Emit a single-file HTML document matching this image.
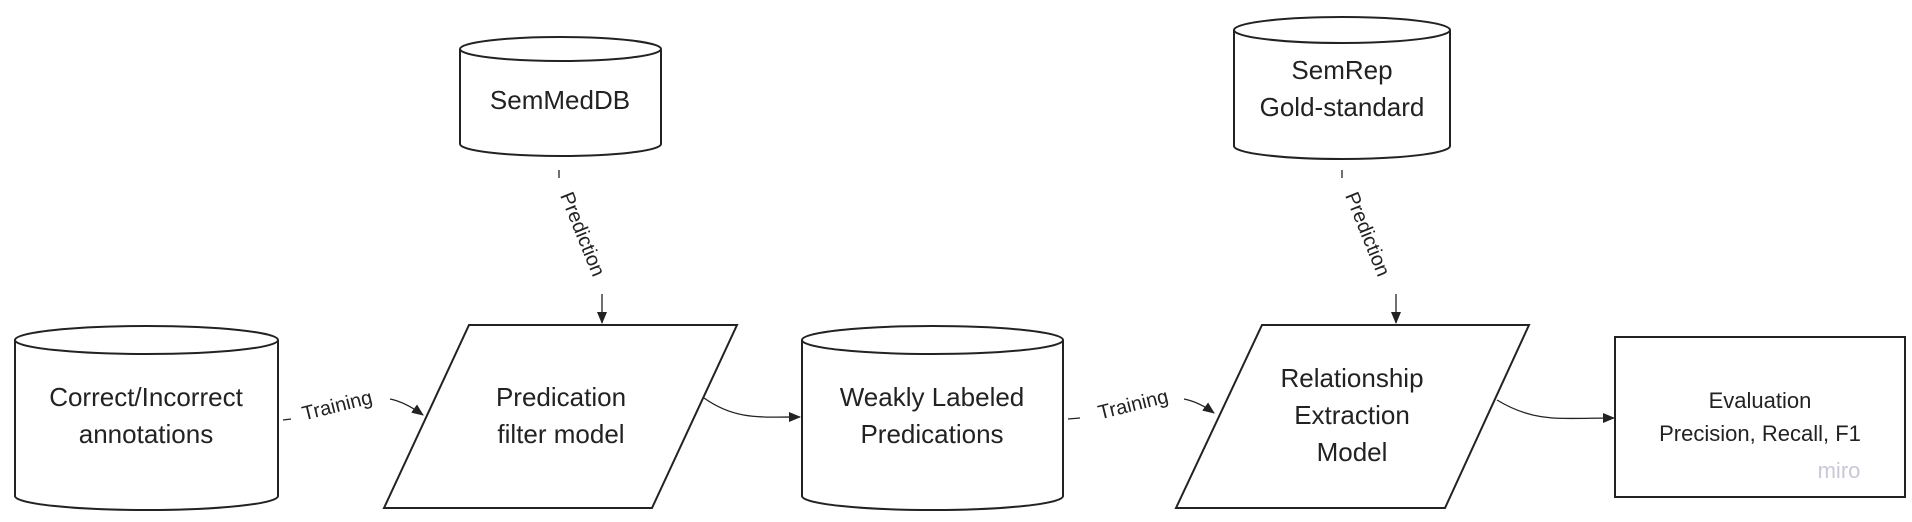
<!DOCTYPE html>
<html><head><meta charset="utf-8"><style>
html,body{margin:0;padding:0;background:#fff;}
svg{display:block;}
text{font-family:"Liberation Sans Narrow","Liberation Sans",sans-serif;fill:#222;}
.n{font-size:26px;text-anchor:middle;}
.l{font-size:20px;text-anchor:middle;font-family:"Liberation Sans",sans-serif;}
.s{fill:#fff;stroke:#222;stroke-width:2;}
.c{fill:none;stroke:#222;stroke-width:1.3;}
</style></head><body>
<svg width="1912" height="522" viewBox="0 0 1912 522">
<defs><marker id="a" markerWidth="12" markerHeight="10" refX="11" refY="5" orient="auto" markerUnits="userSpaceOnUse"><path d="M0,0 L12,5 L0,10 Z" fill="#222"/></marker></defs>
<!-- SemMedDB -->
<path class="s" d="M460,49 A100.5,12 0 0 1 661,49 L661,144 A100.5,12 0 0 1 460,144 Z"/>
<path class="s" style="fill:none" d="M460,49 A100.5,12 0 0 0 661,49"/>
<text class="n" x="560" y="109">SemMedDB</text>
<!-- SemRep -->
<path class="s" d="M1234,30 A108,13 0 0 1 1450,30 L1450,146 A108,13 0 0 1 1234,146 Z"/>
<path class="s" style="fill:none" d="M1234,30 A108,13 0 0 0 1450,30"/>
<text class="n" x="1342" y="79">SemRep</text>
<text class="n" x="1342" y="116">Gold-standard</text>
<!-- Correct -->
<path class="s" d="M15,340 A131.5,14 0 0 1 278,340 L278,496 A131.5,14 0 0 1 15,496 Z"/>
<path class="s" style="fill:none" d="M15,340 A131.5,14 0 0 0 278,340"/>
<text class="n" x="146" y="406">Correct/Incorrect</text>
<text class="n" x="146" y="443">annotations</text>
<!-- Parallelogram 1 -->
<path class="s" d="M469,325 L737,325 L652,508 L384,508 Z"/>
<text class="n" x="561" y="406">Predication</text>
<text class="n" x="561" y="443">filter model</text>
<!-- Weakly -->
<path class="s" d="M802,340 A130.5,14 0 0 1 1063,340 L1063,496 A130.5,14 0 0 1 802,496 Z"/>
<path class="s" style="fill:none" d="M802,340 A130.5,14 0 0 0 1063,340"/>
<text class="n" x="932" y="406">Weakly Labeled</text>
<text class="n" x="932" y="443">Predications</text>
<!-- Parallelogram 2 -->
<path class="s" d="M1262,325 L1529,325 L1445,508 L1176,508 Z"/>
<text class="n" x="1352" y="387">Relationship</text>
<text class="n" x="1352" y="424">Extraction</text>
<text class="n" x="1352" y="461">Model</text>
<!-- Eval -->
<rect class="s" x="1615" y="337" width="290" height="160"/>
<text class="n" x="1760" y="408" style="font-size:22px">Evaluation</text>
<text class="n" x="1760" y="441" style="font-size:22px">Precision, Recall, F1</text>
<text x="1839" y="478" style="font-size:22px;fill:#c8c8d6;text-anchor:middle">miro</text>
<!-- Prediction 1 -->
<path class="c" d="M559,170 L559,178"/>
<text class="l" transform="translate(583,234) rotate(68)" dy="7">Prediction</text>
<path class="c" d="M602,294 L602,323" marker-end="url(#a)"/>
<!-- Prediction 2 -->
<path class="c" d="M1342,170 L1342,178"/>
<text class="l" transform="translate(1368,234) rotate(68)" dy="7">Prediction</text>
<path class="c" d="M1396,294 L1396,323" marker-end="url(#a)"/>
<!-- Training 1 -->
<path class="c" d="M283,420 L291,419"/>
<text class="l" transform="translate(337,405) rotate(-14)" dy="7">Training</text>
<path class="c" d="M390,399 Q405,402 423,415" marker-end="url(#a)"/>
<!-- Training 2 -->
<path class="c" d="M1068,419 L1080,418"/>
<text class="l" transform="translate(1133,404) rotate(-14)" dy="7">Training</text>
<path class="c" d="M1184,399 Q1199,402 1214,413" marker-end="url(#a)"/>
<!-- curves -->
<path class="c" d="M704,398 C735,420 760,417 800,417" marker-end="url(#a)"/>
<path class="c" d="M1497,400 C1535,423 1560,418 1614,418" marker-end="url(#a)"/>
</svg>
</body></html>
